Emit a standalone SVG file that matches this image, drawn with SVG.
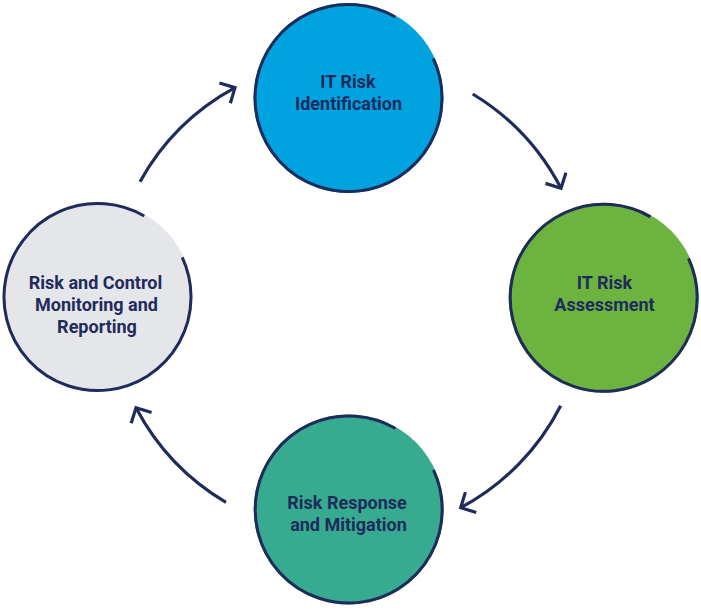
<svg xmlns="http://www.w3.org/2000/svg" width="701" height="614" viewBox="0 0 701 614">
<defs>
<marker id="arrow" markerUnits="userSpaceOnUse" orient="auto" refX="0" refY="0" markerWidth="30" markerHeight="30" viewBox="-15 -15 30 30" overflow="visible">
<path d="M-11.5,-11.5 L0,0 L-11.5,11.5" fill="none" stroke="#1f2b5b" stroke-width="3.2" stroke-linejoin="miter" stroke-linecap="butt"/>
</marker>
<style>
.ring{fill:none;stroke:#1f2b5b;stroke-width:3}
.lbl{font-family:Roboto,"Liberation Sans",sans-serif;font-weight:700;font-size:18px;fill:#1f2b5b;text-anchor:middle}
.conn{fill:none;stroke:#1f2b5b;stroke-width:3.2;marker-end:url(#arrow)}
</style>
</defs>
<rect width="701" height="614" fill="#ffffff"/>
<g id="connectors">
<path class="conn" d="M472.7,94 A238.5,238.5 0 0 1 561,188.3"/>
<path class="conn" d="M560.7,405.7 A238.5,238.5 0 0 1 460.7,507.7"/>
<path class="conn" d="M226,502.3 A239,239 0 0 1 136,407.7"/>
<path class="conn" d="M140,181.7 A239,239 0 0 1 235,87.7"/>
</g>
<g id="node-identification">
<circle cx="348.5" cy="98" r="95" fill="#00a3e0"/>
<path class="ring" d="M433.24,58.49 A93.5,93.5 0 1 1 395.25,17.03"/>
<text class="lbl" x="348" y="88">IT Risk</text>
<text class="lbl" x="348.5" y="110">Identification</text>
</g>
<g id="node-assessment">
<circle cx="603.7" cy="297.8" r="95" fill="#6cb33f"/>
<path class="ring" d="M688.44,258.29 A93.5,93.5 0 1 1 650.45,216.83"/>
<text class="lbl" x="604.5" y="288.5">IT Risk</text>
<text class="lbl" x="604.5" y="310.5">Assessment</text>
</g>
<g id="node-response">
<circle cx="348.7" cy="509.5" r="95" fill="#37ab8f"/>
<path class="ring" d="M433.44,469.99 A93.5,93.5 0 1 1 395.45,428.53"/>
<text class="lbl" x="347" y="508.5">Risk Response</text>
<text class="lbl" x="348.5" y="530.5">and Mitigation</text>
</g>
<g id="node-monitoring">
<circle cx="97.5" cy="297" r="95" fill="#e5e6ea"/>
<path class="ring" d="M182.24,257.49 A93.5,93.5 0 1 1 144.25,216.03"/>
<text class="lbl" x="95.5" y="289">Risk and Control</text>
<text class="lbl" x="96.5" y="311">Monitoring and</text>
<text class="lbl" x="97" y="333">Reporting</text>
</g>
</svg>
